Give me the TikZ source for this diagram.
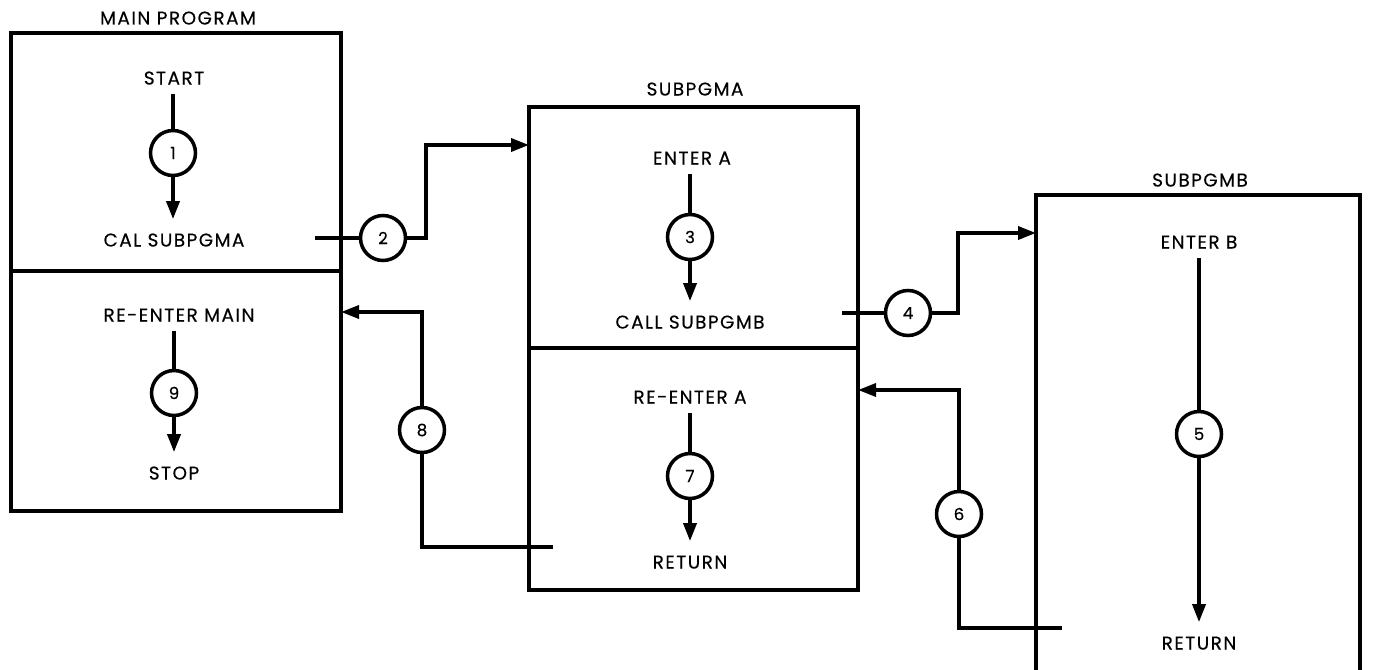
\documentclass[tikz,border=0pt]{standalone}
\usepackage{fontspec}
\setmainfont{Poppins}[LetterSpace=8,FakeBold=0.3]
\usetikzlibrary{arrows.meta}
\begin{document}
\begin{tikzpicture}[x=0.02cm,y=-0.02cm,
  lw/.style={line width=2pt},
  box/.style={draw,lw,rectangle,inner sep=0pt,outer sep=0pt,anchor=north west},
  lbl/.style={inner sep=0pt,font=\fontsize{10.5}{11}\selectfont,text height=7.4pt,text depth=0pt},
  num/.style={draw,lw,circle,minimum size=0.9cm,inner sep=0pt,font=\fontsize{9.5}{10}\selectfont},
  conn/.style={lw},
  flow/.style={lw,-{Triangle[length=0.36cm,width=0.26cm]}},
  inln/.style={conn,shorten <=0.18cm},
  outln/.style={flow,shorten >=0.28cm}]
\useasboundingbox (0,0) rectangle (1375,669);
% boxes
\node[box,minimum width=330*0.02cm,minimum height=238*0.02cm] (mainT) at (11,33) {};
\node[box,minimum width=330*0.02cm,minimum height=240*0.02cm] (mainB) at (11,271) {};
\node[box,minimum width=329*0.02cm,minimum height=241*0.02cm] (subAT) at (529,107) {};
\node[box,minimum width=329*0.02cm,minimum height=242*0.02cm] (subAB) at (529,348) {};
\coordinate (bTL) at (1036,195);
\coordinate (bTR) at (1360,195);
\draw[lw] (1036,672) -- (bTL) -- (bTR) -- (1360,672);
% titles
\node[lbl] (tMain) at (178,18) {MAIN PROGRAM};
\node[lbl] (tA) at (695,89) {SUBPGMA};
\node[lbl] (tB) at (1200,180) {SUBPGMB};
% main program
\node[lbl] (start) at (174,78) {START};
\node[num] (c1) at (173,153) {1};
\node[lbl] (cal) at (174,240) {CAL SUBPGMA};
\draw[inln] (start.south -| c1) -- (c1);
\draw[outln] (c1) -- (cal.north -| c1);
\node[lbl] (reMain) at (179,315) {RE-ENTER MAIN};
\node[num] (c9) at (174,393) {9};
\node[lbl] (stop) at (174,473) {STOP};
\draw[inln] (reMain.south -| c9) -- (c9);
\draw[outln] (c9) -- (stop.north -| c9);
% subpgma
\node[lbl] (enterA) at (692,158) {ENTER A};
\node[num] (c3) at (690,237) {3};
\node[lbl] (callB) at (690,322) {CALL SUBPGMB};
\draw[inln] (enterA.south -| c3) -- (c3);
\draw[outln] (c3) -- (callB.north -| c3);
\node[lbl] (reA) at (690,397) {RE-ENTER A};
\node[num] (c7) at (690,476) {7};
\node[lbl] (retA) at (690,562) {RETURN};
\draw[inln] (reA.south -| c7) -- (c7);
\draw[outln] (c7) -- (retA.north -| c7);
% subpgmb
\node[lbl] (enterB) at (1199,242) {ENTER B};
\node[num] (c5) at (1199,434) {5};
\node[lbl] (retB) at (1199,643) {RETURN};
\draw[inln] (enterB.south -| c5) -- (c5);
\draw[outln] (c5) -- (retB.north -| c5);
% call 2
\coordinate (o2) at (315,238);
\node[num] (c2) at (383,238) {2};
\coordinate (j2) at (426,145);
\draw[conn] (o2) -- (c2);
\draw[flow] (c2) -| (j2) -- (j2 -| subAT.west);
% call 4
\coordinate (o4) at (842,313);
\node[num] (c4) at (908,313) {4};
\coordinate (j4) at (958,233);
\draw[conn] (o4) -- (c4);
\draw[flow] (c4) -| (j4) -- (j4 -| bTL);
% return 6
\coordinate (o6) at (1062,628);
\node[num] (c6) at (959,514) {6};
\coordinate (j6) at (959,390);
\draw[conn] (o6) -| (c6);
\draw[flow] (c6) -- (j6) -- (j6 -| subAB.east);
% return 8
\coordinate (o8) at (553,547);
\node[num] (c8) at (422,430) {8};
\coordinate (j8) at (422,312);
\draw[conn] (o8) -| (c8);
\draw[flow] (c8) -- (j8) -- (j8 -| mainB.east);
\end{tikzpicture}
\end{document}
